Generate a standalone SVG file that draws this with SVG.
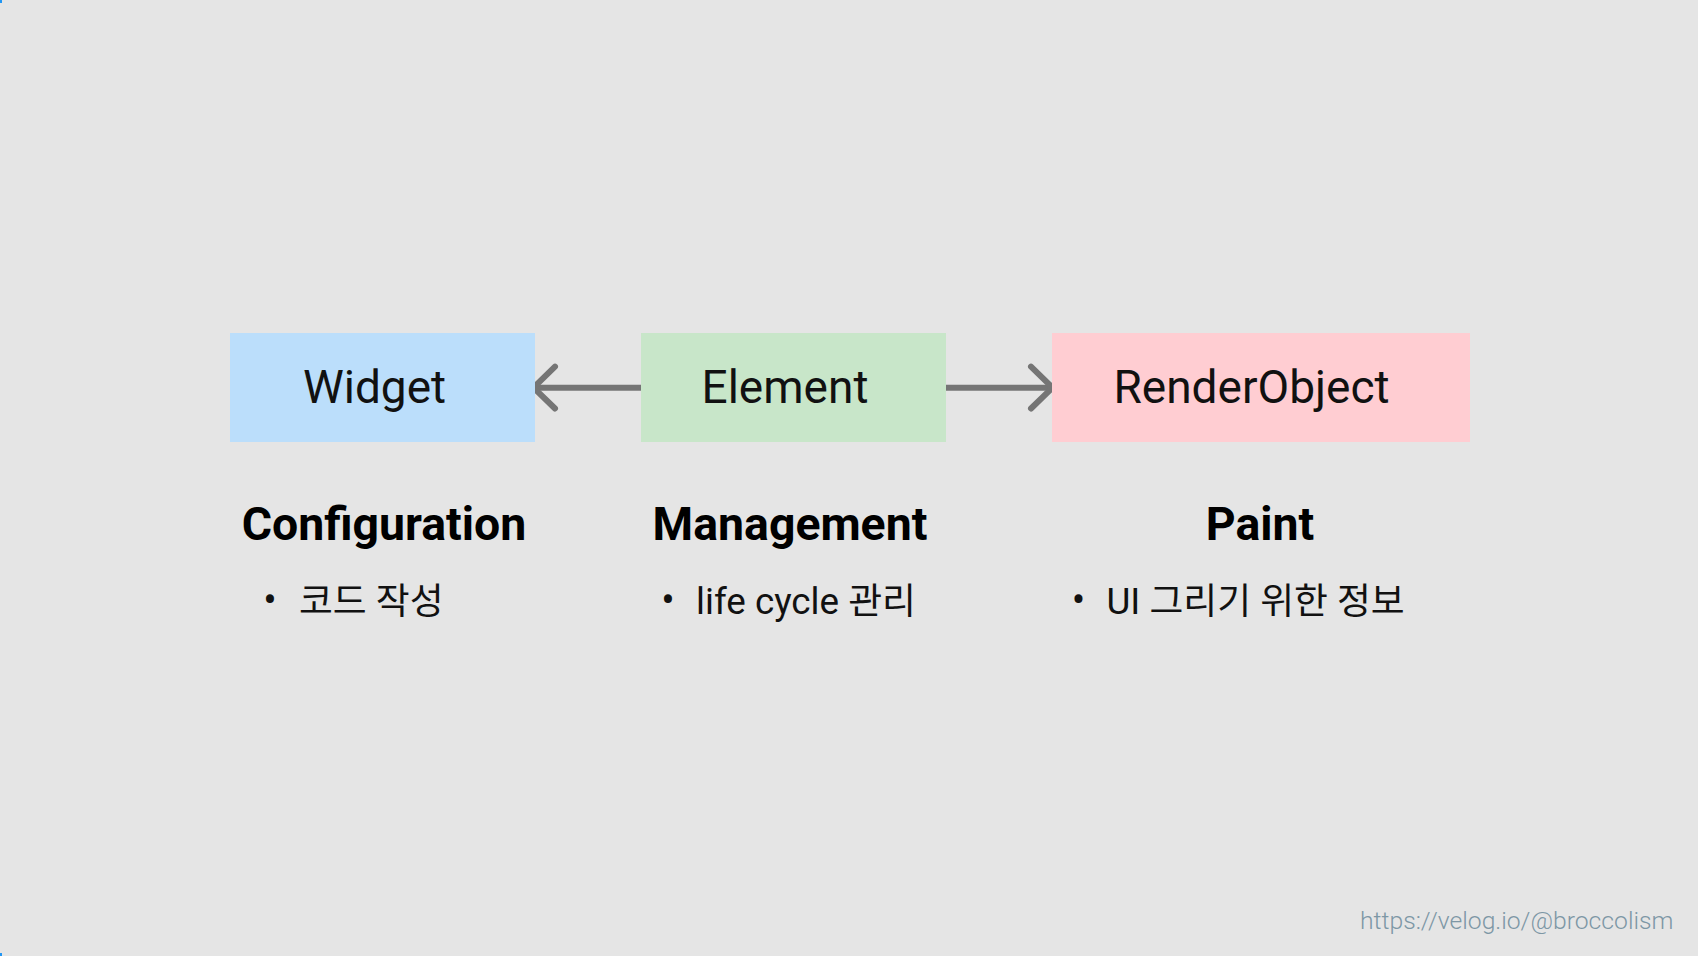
<svg xmlns="http://www.w3.org/2000/svg" width="1698" height="956" viewBox="0 0 1698 956">
  <style>
    .lbl { font-family: Roboto, "Noto Sans CJK KR", sans-serif; font-size: 46px; fill: #111111; text-anchor: middle; }
    .hd { font-family: Roboto, "Noto Sans CJK KR", sans-serif; font-size: 46.4px; font-weight: bold; fill: #000000; text-anchor: middle; }
    .bl { font-family: Roboto, "Noto Sans CJK KR", sans-serif; font-size: 36.8px; fill: #111111; }
    .dot { font-family: Roboto, "Noto Sans CJK KR", sans-serif; font-size: 40px; fill: #111111; text-anchor: middle; }
    .url { font-family: Roboto, "Noto Sans", sans-serif; font-size: 24.7px; font-weight: 300; fill: #7d97a5; }
    .conn { stroke: #757575; stroke-width: 6; fill: none; stroke-linecap: round; stroke-linejoin: round; }
  </style>
  <rect x="0" y="0" width="1698" height="956" fill="#e5e5e5"/>
  <rect x="0" y="0" width="2" height="3" fill="#2196f3"/>
  <rect x="0" y="953" width="2" height="3" fill="#2196f3"/>

  <g id="connectors">
    <path class="conn" d="M641 387.7 H536" style="stroke-linecap:butt"/>
    <path class="conn" d="M555 366.7 L533.5 387.7 L555 408.5"/>
    <path class="conn" d="M945 387.7 H1050" style="stroke-linecap:butt"/>
    <path class="conn" d="M1031 366.7 L1052.5 387.7 L1031 408.5"/>
  </g>

  <g id="widget">
    <rect x="230" y="333" width="305" height="109" fill="#bbdefb"/>
    <text class="lbl" x="374.5" y="403">Widget</text>
  </g>
  <g id="element">
    <rect x="641" y="333" width="305" height="109" fill="#c8e6c9"/>
    <text class="lbl" x="785" y="403">Element</text>
  </g>
  <g id="renderobject">
    <rect x="1052" y="333" width="418" height="109" fill="#ffcdd2"/>
    <text class="lbl" x="1251.5" y="403">RenderObject</text>
  </g>

  <g id="configuration">
    <text class="hd" x="384" y="540">Configuration</text>
    <text class="dot" x="270" y="614">•</text>
    <text class="bl" x="299" y="614">코드 작성</text>
  </g>
  <g id="management">
    <text class="hd" x="790" y="540">Management</text>
    <text class="dot" x="668" y="614">•</text>
    <text class="bl" x="696" y="614">life cycle 관리</text>
  </g>
  <g id="paint">
    <text class="hd" x="1260" y="540">Paint</text>
    <text class="dot" x="1078.5" y="614">•</text>
    <text class="bl" x="1106.5" y="614">UI 그리기 위한 정보</text>
  </g>

  <text class="url" x="1360" y="929">https://velog.io/@broccolism</text>
</svg>
